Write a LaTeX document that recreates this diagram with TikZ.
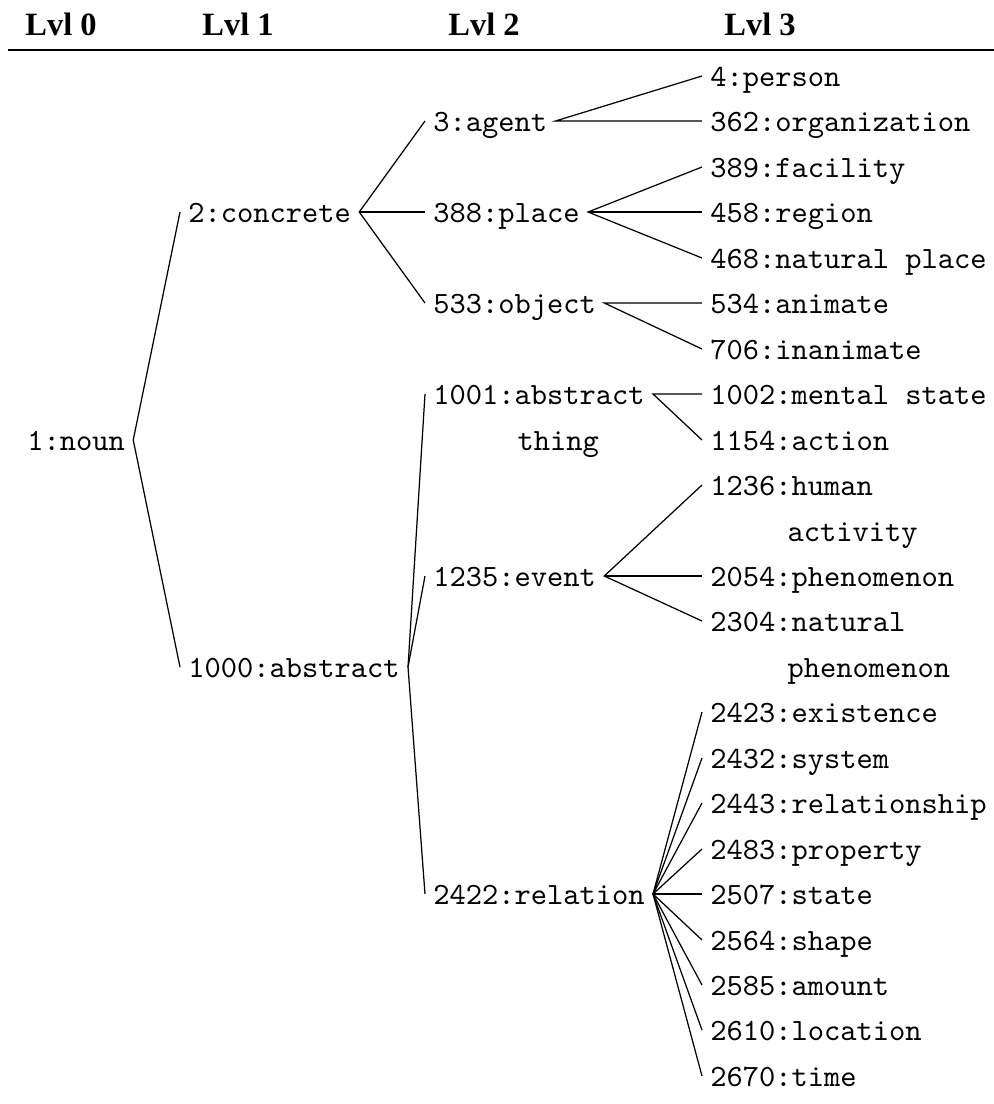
\documentclass[tikz,border=0pt]{standalone}
\usepackage{fontspec}
\usepackage{tikz}

\newfontfamily\hdfont{Liberation Serif}

\tikzset{
    syn/.style={font=\ttfamily, anchor=west, inner xsep=2.5pt, inner ysep=0pt, text height=6.5pt, text depth=0pt},
    cont/.style={font=\ttfamily, anchor=west, inner sep=0pt, text height=6.5pt, text depth=0pt},
    lvl/.style={font=\hdfont\bfseries\fontsize{10.5}{12}\selectfont, inner sep=0pt},
    branch/.style={draw=black, line width=0.4pt}
}

\begin{document}
\begin{tikzpicture}[x=0.323pt,y=-0.323pt]
    \useasboundingbox (0,0) rectangle (994,1104);

    % Header
    \node[lvl] (h0) at (61,24) {Lvl 0};
    \node[lvl] (h1) at (238,24) {Lvl 1};
    \node[lvl] (h2) at (484,24) {Lvl 2};
    \node[lvl] (h3) at (760,24) {Lvl 3};
    \coordinate (ruleL) at (8,50);
    \coordinate (ruleR) at (994,50);
    \draw[line width=0.85pt] (ruleL) -- (ruleR);

    % Level 0
    \node[syn] (noun) at (19,440) {1:noun};

    % Level 1
    \node[syn] (concrete) at (180,212) {2:concrete};
    \node[syn] (abstract) at (180,667) {1000:abstract};

    % Level 2
    \node[syn] (agent) at (425,121) {3:agent};
    \node[syn] (place) at (425,212) {388:place};
    \node[syn] (object) at (425,303) {533:object};
    \node[syn] (athing) at (425,394) {1001:abstract};
    \node[cont] (athing2) at (517,440) {thing};
    \node[syn] (event) at (425,576) {1235:event};
    \node[syn] (relation) at (425,894) {2422:relation};

    % Level 3
    \node[syn] (person) at (702,76) {4:person};
    \node[syn] (organization) at (702,121) {362:organization};
    \node[syn] (facility) at (702,167) {389:facility};
    \node[syn] (region) at (702,212) {458:region};
    \node[syn] (natplace) at (702,258) {468:natural place};
    \node[syn] (animate) at (702,303) {534:animate};
    \node[syn] (inanimate) at (702,349) {706:inanimate};
    \node[syn] (mental) at (702,394) {1002:mental state};
    \node[syn] (action) at (702,440) {1154:action};
    \node[syn] (human) at (702,485) {1236:human};
    \node[cont] (human2) at (787,531) {activity};
    \node[syn] (phenomenon) at (702,576) {2054:phenomenon};
    \node[syn] (natphen) at (702,621) {2304:natural};
    \node[cont] (natphen2) at (787,667) {phenomenon};
    \node[syn] (existence) at (702,712) {2423:existence};
    \node[syn] (system) at (702,758) {2432:system};
    \node[syn] (relationship) at (702,803) {2443:relationship};
    \node[syn] (property) at (702,849) {2483:property};
    \node[syn] (state) at (702,894) {2507:state};
    \node[syn] (shape) at (702,940) {2564:shape};
    \node[syn] (amount) at (702,985) {2585:amount};
    \node[syn] (location) at (702,1030) {2610:location};
    \node[syn] (time) at (702,1076) {2670:time};

    % Branches
    \draw[branch] (concrete.west) -- (noun.east) -- (abstract.west);
    \draw[branch] (agent.west) -- (concrete.east) -- (object.west);
    \draw[branch] (concrete.east) -- (place.west);
    \draw[branch] (athing.west) -- (abstract.east) -- (relation.west);
    \draw[branch] (abstract.east) -- (event.west);

    \draw[branch] (person.west) -- (agent.east) -- (organization.west);
    \draw[branch] (facility.west) -- (place.east) -- (natplace.west);
    \draw[branch] (place.east) -- (region.west);
    \draw[branch] (animate.west) -- (object.east) -- (inanimate.west);
    \draw[branch] (mental.west) -- (athing.east) -- (action.west);
    \draw[branch] (human.west) -- (event.east) -- (natphen.west);
    \draw[branch] (event.east) -- (phenomenon.west);

    \draw[branch] (existence.west) -- (relation.east) -- (time.west);
    \draw[branch] (relation.east) -- (system.west);
    \draw[branch] (relation.east) -- (relationship.west);
    \draw[branch] (relation.east) -- (property.west);
    \draw[branch] (relation.east) -- (state.west);
    \draw[branch] (relation.east) -- (shape.west);
    \draw[branch] (relation.east) -- (amount.west);
    \draw[branch] (relation.east) -- (location.west);
\end{tikzpicture}
\end{document}
